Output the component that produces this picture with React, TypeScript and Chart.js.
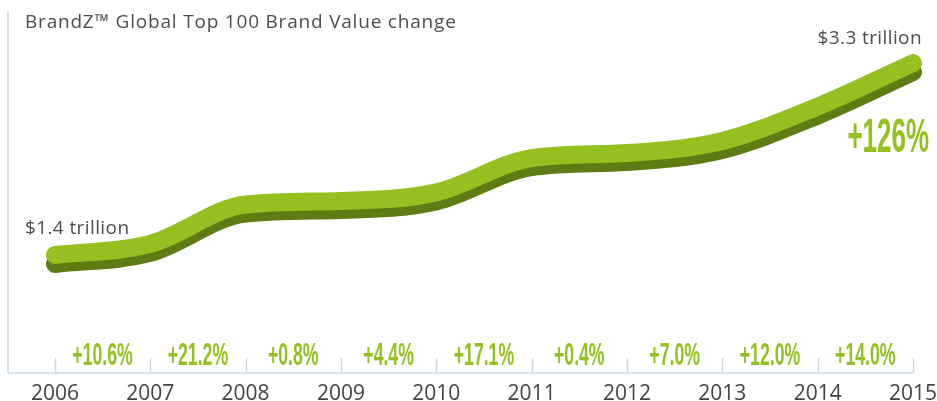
import React, { useEffect, useRef } from "react";
import { Chart, registerables } from "chart.js";

Chart.register(...registerables);

const titleText = "BrandZ™ Global Top 100 Brand Value change";
const years = [2006, 2007, 2008, 2009, 2010, 2011, 2012, 2013, 2014, 2015];
const brandValue = [1.4, 1.51, 1.9, 1.935, 2.02, 2.36, 2.41, 2.53, 2.87, 3.3];
const yearChanges = ["+10.6%", "+21.2%", "+0.8%", "+4.4%", "+17.1%", "+0.4%", "+7.0%", "+12.0%", "+14.0%"];
const startLabel = "$1.4 trillion";
const endLabel = "$3.3 trillion";
const totalChange = "+126%";

const GREEN = "#94c11f";
const DARK_GREEN = "#5d7c14";
const AXIS = "#c9d9e5";
const TEXT = "#4d4d4d";

const decorPlugin = {
  id: "decor",
  beforeDatasetsDraw(chart: any) {
    const { ctx, chartArea, scales } = chart;
    const xs = scales.x;
    ctx.save();
    ctx.strokeStyle = AXIS;
    ctx.lineWidth = 1.5;
    ctx.beginPath();
    ctx.moveTo(chartArea.left, chartArea.top);
    ctx.lineTo(chartArea.left, chartArea.bottom);
    ctx.lineTo(xs.getPixelForValue(years[years.length - 1]), chartArea.bottom);
    ctx.stroke();
    years.forEach((yr) => {
      const px = Math.round(xs.getPixelForValue(yr)) + 0.5;
      ctx.beginPath();
      ctx.moveTo(px, chartArea.bottom - 15);
      ctx.lineTo(px, chartArea.bottom);
      ctx.stroke();
    });
    // percentage labels
    ctx.fillStyle = GREEN;
    ctx.font = "bold 31px 'Liberation Sans'";
    ctx.textAlign = "center";
    ctx.textBaseline = "alphabetic";
    yearChanges.forEach((t, i) => {
      const cx = (xs.getPixelForValue(years[i]) + xs.getPixelForValue(years[i + 1])) / 2;
      ctx.save();
      ctx.translate(cx, chartArea.bottom - 8);
      ctx.scale(0.57, 1);
      ctx.fillText(t, 0, 0);
      ctx.restore();
    });
    ctx.restore();
  },
  beforeDatasetDraw(chart: any) {
    const ctx = chart.ctx;
    ctx.save();
    ctx.shadowColor = DARK_GREEN;
    ctx.shadowOffsetX = 0;
    ctx.shadowOffsetY = 9;
    ctx.shadowBlur = 0;
  },
  afterDatasetDraw(chart: any) {
    chart.ctx.restore();
  },
  afterDatasetsDraw(chart: any) {
    const { ctx, scales } = chart;
    const xs = scales.x;
    const ys = scales.y;
    ctx.save();
    // title
    ctx.fillStyle = TEXT;
    ctx.font = "19px 'Open Sans'";
    ctx.textAlign = "left";
    ctx.textBaseline = "alphabetic";
    (ctx as any).letterSpacing = "0.8px";
    ctx.fillText(titleText, 25, 28);
    // start / end labels
    (ctx as any).letterSpacing = "0.4px";
    const x0 = xs.getPixelForValue(years[0]);
    const y0 = ys.getPixelForValue(brandValue[0]);
    ctx.fillText(startLabel, x0 - 30, y0 - 21);
    const xn = xs.getPixelForValue(years[years.length - 1]);
    const yn = ys.getPixelForValue(brandValue[brandValue.length - 1]);
    ctx.textAlign = "right";
    ctx.fillText(endLabel, xn + 9, yn - 19);
    (ctx as any).letterSpacing = "0px";
    // total change
    ctx.fillStyle = GREEN;
    ctx.font = "bold 49px 'Liberation Sans'";
    ctx.translate(xn + 16, yn + 89);
    ctx.scale(0.53, 1);
    ctx.textAlign = "right";
    ctx.fillText(totalChange, 0, 0);
    ctx.restore();
  },
};

export default function App() {
  const ref = useRef<HTMLCanvasElement | null>(null);
  useEffect(() => {
    document.body.style.margin = "0";
    if (!ref.current) return;
    const chart = new Chart(ref.current, {
      type: "line",
      data: {
        datasets: [
          {
            label: "Brand value",
            data: years.map((y, i) => ({ x: y, y: brandValue[i] })),
            borderColor: GREEN,
            borderWidth: 18,
            borderCapStyle: "round",
            borderJoinStyle: "round",
            pointRadius: 0,
            fill: false,
            cubicInterpolationMode: "monotone",
            clip: false as any,
          },
        ],
      },
      options: {
        animation: false,
        responsive: true,
        maintainAspectRatio: false,
        layout: { padding: { left: 8, right: 23, top: 12, bottom: 0 } },
        plugins: { legend: { display: false }, tooltip: { enabled: false }, title: { display: false } },
        scales: {
          x: {
            type: "linear",
            min: 2005.508,
            max: 2015,
            grid: { display: false },
            border: { display: false },
            afterBuildTicks: (scale: any) => {
              scale.ticks = years.map((v) => ({ value: v }));
            },
            afterFit: (scale: any) => {
              scale.height = 28;
            },
            ticks: {
              autoSkip: false,
              maxRotation: 0,
              padding: 0,
              color: "#444",
              font: { family: "'Open Sans'", size: 21 },
              callback: (v: any) => String(v),
            },
          },
          y: {
            display: false,
            min: 0.232,
            max: 3.806,
          },
        },
      },
      plugins: [decorPlugin],
    });
    return () => chart.destroy();
  }, []);
  return (
    <div style={{ width: 937, height: 401, position: "relative" }}>
      <canvas ref={ref} />
    </div>
  );
}
